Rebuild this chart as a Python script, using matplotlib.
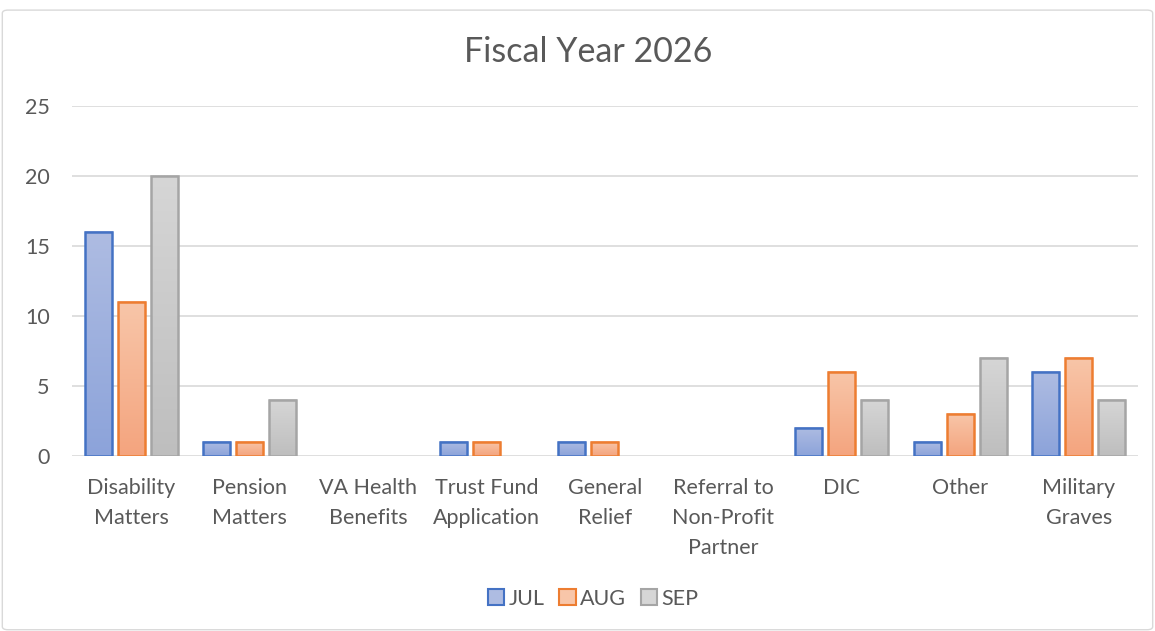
import matplotlib
matplotlib.use("Agg")
import matplotlib.pyplot as plt
import numpy as np
from matplotlib.patches import FancyBboxPatch, Patch
from matplotlib.colors import LinearSegmentedColormap

categories = ["Disability\nMatters", "Pension\nMatters", "VA Health\nBenefits",
              "Trust Fund\nApplication", "General\nRelief",
              "Referral to\nNon-Profit\nPartner", "DIC", "Other", "Military\nGraves"]
series_names = ["JUL", "AUG", "SEP"]
jul = [16, 1, 0, 1, 1, 0, 2, 1, 6]
aug = [11, 1, 0, 1, 1, 0, 6, 3, 7]
sep = [20, 4, 0, 0, 0, 0, 4, 7, 4]
yticks = [0, 5, 10, 15, 20, 25]

edge_colors = ["#4472C4", "#ED7D31", "#A5A5A5"]
grad_top = ["#AEBCE2", "#F8C6A9", "#D6D6D6"]
grad_bot = ["#8CA3DA", "#F4A47E", "#BEBEBE"]

plt.rcParams['font.family'] = ['Lato', 'DejaVu Sans']
text_color = "#595959"

fig = plt.figure(figsize=(11.55, 6.31), dpi=100)
ax = fig.add_axes([0.0623, 0.2773, 0.9230, 0.5547])

x = np.arange(len(categories))
width = 0.228
offset = 0.279
data = [jul, aug, sep]

for i, vals in enumerate(data):
    bars = ax.bar(x + (i - 1) * offset, vals, width, facecolor="none",
                  edgecolor=edge_colors[i], linewidth=1.8, zorder=3)
    cmap = LinearSegmentedColormap.from_list("g%d" % i, [grad_bot[i], grad_top[i]])
    grad = np.linspace(0, 1, 256).reshape(-1, 1)
    for b in bars:
        h = b.get_height()
        if h <= 0:
            b.set_visible(False)
            continue
        x0 = b.get_x()
        ax.imshow(grad, cmap=cmap, extent=[x0, x0 + b.get_width(), 0, h],
                  origin="lower", aspect="auto", zorder=2, interpolation="bilinear")

ax.set_xlim(-0.5, len(categories) - 0.5)
ax.set_ylim(0, 25)
ax.set_yticks(yticks)
ax.set_yticklabels([str(t) for t in yticks], fontsize=15.5, color=text_color)
ax.set_xticks(x)
ax.set_xticklabels(categories, fontsize=15.5, color=text_color, linespacing=1.63)
ax.tick_params(axis='both', length=0)
ax.tick_params(axis='x', pad=15.5)
ax.tick_params(axis='y', pad=16)
ax.grid(axis='y', color="#D9D9D9", linewidth=1.2, zorder=0)
ax.set_axisbelow(True)
for s in ax.spines.values():
    s.set_visible(False)

fig.text(0.509, 0.918, "Fiscal Year 2026", ha="center", va="center",
         fontsize=24.5, color=text_color)

handles = [Patch(facecolor=grad_top[i], edgecolor=edge_colors[i], linewidth=1.5,
                 label=series_names[i]) for i in range(3)]
fig.legend(handles=handles, loc="center", bbox_to_anchor=(0.5135, 0.051), ncol=3,
           frameon=False, fontsize=15.5, labelcolor=text_color, handlelength=0.75,
           handleheight=0.75, handletextpad=0.2, columnspacing=0.7)

border = FancyBboxPatch((0.002, 0.002), 0.996, 0.982, boxstyle="round,pad=0,rounding_size=0.005",
                        transform=fig.transFigure, facecolor="none", edgecolor="#D9D9D9",
                        linewidth=1.0)
fig.patches.append(border)

fig.savefig("out.png", dpi=100)
